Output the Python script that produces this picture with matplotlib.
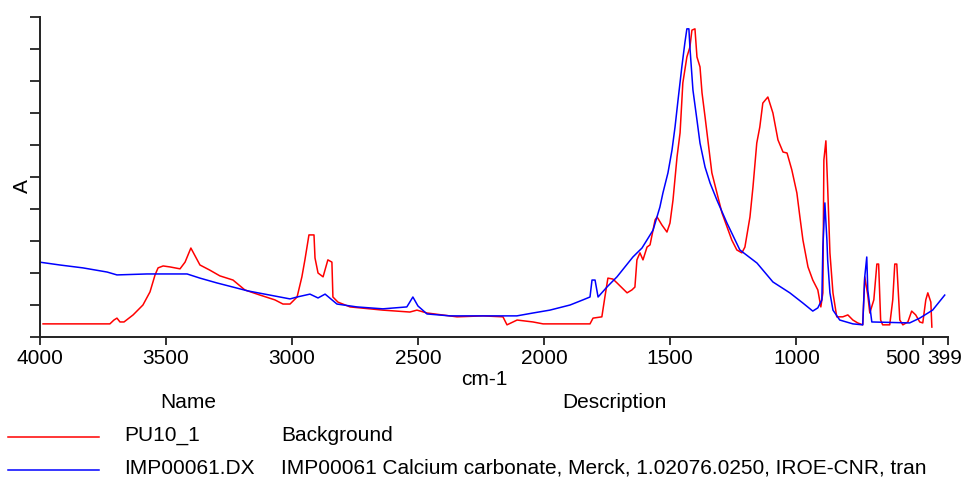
import matplotlib
matplotlib.use("Agg")
import matplotlib.pyplot as plt
from matplotlib.transforms import ScaledTranslation

# ---- data ----
red_wn = [3986, 3721, 3705, 3693, 3681, 3665, 3629, 3590, 3562, 3542, 3530, 3510, 3483, 3443, 3423, 3400,
          3364, 3325, 3285, 3233, 3186, 3126, 3067, 3035, 3007, 2979, 2960, 2948, 2932, 2912, 2908, 2896,
          2876, 2857, 2841, 2837, 2817, 2769, 2639, 2532, 2504, 2464, 2345, 2242, 2163, 2147, 2107, 2044,
          2004, 1818, 1806, 1771, 1759, 1747, 1727, 1711, 1671, 1652, 1640, 1632, 1620, 1608, 1592, 1580,
          1560, 1552, 1533, 1513, 1501, 1489, 1473, 1461, 1450, 1434, 1422, 1414, 1402, 1394, 1382, 1374,
          1362, 1351, 1335, 1315, 1295, 1275, 1256, 1236, 1216, 1204, 1184, 1172, 1157, 1145, 1133, 1113,
          1093, 1073, 1053, 1037, 1018, 998, 986, 974, 954, 935, 915, 903, 895, 891, 883, 876, 867, 855,
          840, 816, 796, 776, 757, 737, 729, 717, 709, 693, 681, 674, 666, 658, 630, 618, 610, 602, 590,
          578, 558, 543, 527, 511, 499, 487, 479, 467, 463]
red_abs = [0.041, 0.041, 0.053, 0.059, 0.047, 0.047, 0.069, 0.100, 0.141, 0.194, 0.216, 0.222, 0.219, 0.213,
           0.234, 0.278, 0.225, 0.209, 0.191, 0.178, 0.147, 0.131, 0.116, 0.103, 0.103, 0.125, 0.188, 0.241,
           0.319, 0.319, 0.247, 0.200, 0.188, 0.241, 0.234, 0.125, 0.109, 0.094, 0.084, 0.078, 0.084, 0.075,
           0.063, 0.066, 0.063, 0.038, 0.053, 0.047, 0.041, 0.041, 0.059, 0.063, 0.125, 0.184, 0.181, 0.169,
           0.138, 0.147, 0.156, 0.241, 0.263, 0.241, 0.281, 0.288, 0.366, 0.375, 0.350, 0.328, 0.356, 0.428,
           0.563, 0.638, 0.794, 0.875, 0.906, 0.959, 0.963, 0.875, 0.844, 0.763, 0.688, 0.616, 0.513, 0.450,
           0.388, 0.344, 0.303, 0.272, 0.263, 0.281, 0.375, 0.469, 0.606, 0.656, 0.731, 0.750, 0.700, 0.616,
           0.578, 0.575, 0.522, 0.450, 0.375, 0.303, 0.219, 0.178, 0.147, 0.094, 0.138, 0.553, 0.613, 0.469,
           0.263, 0.138, 0.063, 0.063, 0.069, 0.053, 0.044, 0.038, 0.188, 0.131, 0.075, 0.116, 0.228, 0.228,
           0.053, 0.038, 0.038, 0.116, 0.228, 0.228, 0.053, 0.038, 0.047, 0.081, 0.069, 0.047, 0.044, 0.116,
           0.138, 0.109, 0.031]

blue_wn = [4000, 3919, 3828, 3732, 3693, 3574, 3415, 3364, 3297, 3174, 3087, 3007, 2979, 2928, 2896, 2868,
           2821, 2742, 2639, 2544, 2520, 2500, 2464, 2373, 2108, 2044, 1977, 1897, 1846, 1818, 1810, 1798,
           1786, 1751, 1711, 1648, 1612, 1568, 1541, 1529, 1509, 1493, 1481, 1469, 1454, 1442, 1434, 1426,
           1422, 1410, 1394, 1382, 1362, 1342, 1315, 1275, 1224, 1156, 1093, 1026, 974, 935, 915, 899, 895,
           887, 879, 876, 867, 855, 828, 776, 737, 729, 721, 717, 701, 551, 511, 460, 412]
blue_abs = [0.234, 0.225, 0.216, 0.203, 0.194, 0.197, 0.197, 0.184, 0.169, 0.144, 0.131, 0.119, 0.125, 0.134,
            0.122, 0.134, 0.103, 0.094, 0.088, 0.094, 0.125, 0.097, 0.072, 0.066, 0.066, 0.075, 0.084, 0.100,
            0.116, 0.125, 0.178, 0.178, 0.125, 0.156, 0.188, 0.250, 0.278, 0.334, 0.406, 0.450, 0.513, 0.584,
            0.656, 0.741, 0.844, 0.919, 0.963, 0.963, 0.906, 0.772, 0.678, 0.606, 0.531, 0.481, 0.428, 0.356,
            0.272, 0.231, 0.172, 0.138, 0.106, 0.081, 0.091, 0.116, 0.281, 0.419, 0.303, 0.241, 0.138, 0.084,
            0.053, 0.041, 0.038, 0.188, 0.250, 0.147, 0.047, 0.044, 0.059, 0.084, 0.131]

xticks = [4000, 3500, 3000, 2500, 2000, 1500, 1000, 500, 399]
xtick_labels = ["4000", "3500", "3000", "2500", "2000", "1500", "1000", "500", "399"]
yticks = [i / 10 for i in range(11)]

legend_names = ["PU10_1", "IMP00061.DX"]
legend_desc = ["Background", "IMP00061 Calcium carbonate, Merck, 1.02076.0250, IROE-CNR, tran"]
colors = ["#ff0000", "#0000ff"]

# ---- figure ----
plt.rcParams['font.family'] = ['Liberation Sans', 'DejaVu Sans']
FS = 15
W, H = 968, 479
fig = plt.figure(figsize=(W / 100, H / 100), dpi=100)
ax = fig.add_axes([39.5 / W, 1 - 337 / H, (948 - 39.5) / W, (337 - 17) / H])

ax.plot(red_wn, red_abs, color=colors[0], lw=1.1)
ax.plot(blue_wn, blue_abs, color=colors[1], lw=1.1)

ax.set_xlim(4000, 399)
ax.set_ylim(0, 1)
ax.set_xticks(xticks)
ax.set_xticklabels(xtick_labels, fontsize=FS)
ax.set_yticks(yticks)
ax.set_yticklabels([])
for s in ["top", "right"]:
    ax.spines[s].set_visible(False)
for s in ["left", "bottom"]:
    ax.spines[s].set_linewidth(1.4)
    ax.spines[s].set_color("#222222")
ax.tick_params(axis="x", direction="out", length=6, width=1.3, pad=3, colors="#222222", labelcolor="black")
ax.tick_params(axis="y", direction="out", length=7, width=1.3, colors="#222222")

# the last two tick labels are nudged left so they do not collide
labels = ax.get_xticklabels()
shifts = {"500": -20, "399": -3}
for lab in labels:
    dx = shifts.get(lab.get_text(), 0)
    if dx:
        lab.set_transform(lab.get_transform() + ScaledTranslation(dx / 100, 0, fig.dpi_scale_trans))

def fy(py):
    return 1 - py / H

fig.text(22 / W, fy(186), "A", rotation=90, ha="center", va="center", fontsize=FS)
fig.text(484 / W, fy(385), "cm-1", ha="center", va="baseline", fontsize=FS)
fig.text(188 / W, fy(408), "Name", ha="center", va="baseline", fontsize=FS)
fig.text(614 / W, fy(408), "Description", ha="center", va="baseline", fontsize=FS)

row_line_y = [437, 470]
row_base_y = [441, 474]
for i in range(2):
    fig.add_artist(plt.Line2D([8 / W, 99 / W], [fy(row_line_y[i])] * 2, color=colors[i], lw=1.1,
                              transform=fig.transFigure))
    fig.text(124 / W, fy(row_base_y[i]), legend_names[i], ha="left", va="baseline", fontsize=FS)
    fig.text(281 / W, fy(row_base_y[i]), legend_desc[i], ha="left", va="baseline", fontsize=FS)

fig.savefig("out.png", dpi=100)
